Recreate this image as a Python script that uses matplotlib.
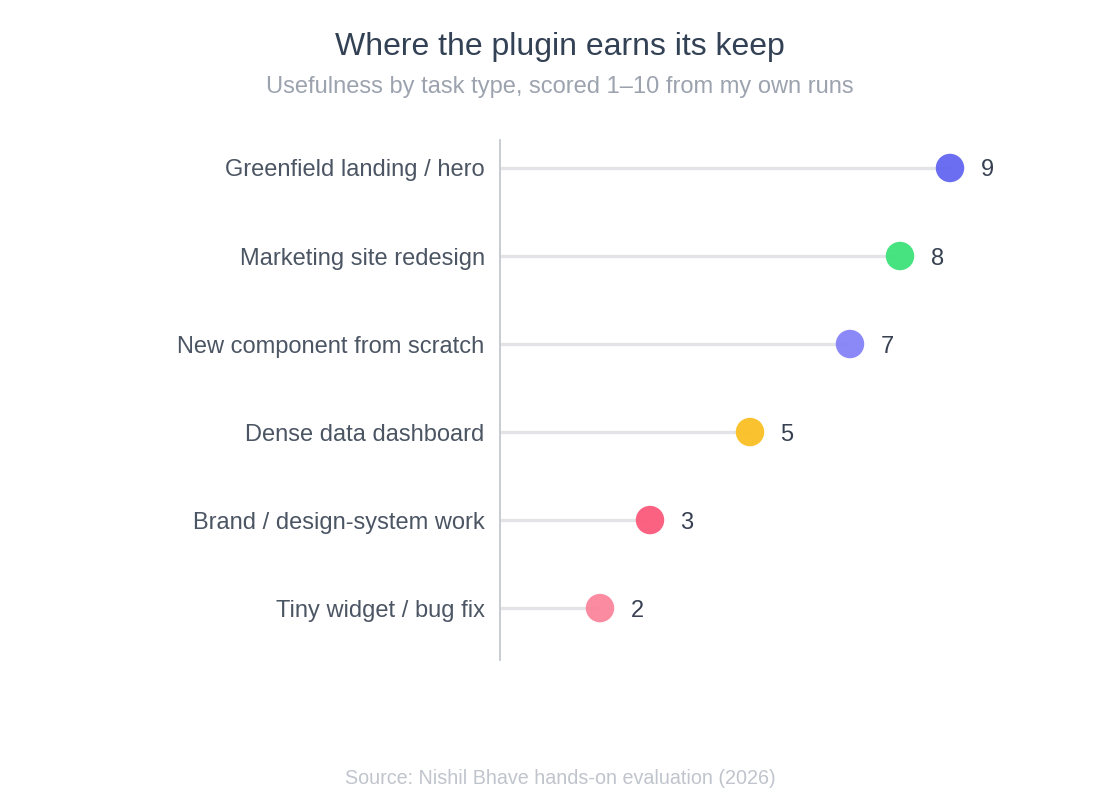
import matplotlib.pyplot as plt

tasks = ["Greenfield landing / hero", "Marketing site redesign", "New component from scratch",
         "Dense data dashboard", "Brand / design-system work", "Tiny widget / bug fix"]
scores = [9, 8, 7, 5, 3, 2]
colors = ["#6366f1", "#3ee27a", "#7f7cf8", "#fbbf24", "#fb5a7a", "#fb7f97"]
alphas = [0.95, 0.95, 0.9, 0.95, 0.95, 0.9]

plt.rcParams['font.family'] = ['Liberation Sans', 'DejaVu Sans']

fig = plt.figure(figsize=(11.2, 8), dpi=100)
ax = fig.add_axes([500 / 1120, 1 - 660 / 800, 550 / 1120, 520 / 800])

ypos = list(range(len(tasks)))
for y, s, c, a in zip(ypos, scores, colors, alphas):
    ax.plot([0, s], [y, y], color="#e2e4e8", lw=2.4, solid_capstyle="butt", zorder=1)
    ax.scatter([s], [y], s=420, color=c, alpha=a, edgecolors="none", zorder=2)
    ax.annotate(str(s), (s, y), xytext=(22, 0), textcoords="offset points",
                va="center_baseline", ha="left", fontsize=17, color="#374151")

ax.set_xlim(0, 11)
ax.set_ylim(5.59, -0.318)
ax.set_yticks(ypos)
ax.set_yticklabels(tasks, fontsize=17, color="#4b5563")
ax.tick_params(axis="y", length=0, pad=11)
ax.set_xticks([])
for side in ["top", "right", "bottom"]:
    ax.spines[side].set_visible(False)
ax.spines["left"].set_color("#c4c8ce")
ax.spines["left"].set_linewidth(1.3)

fig.text(0.5, 1 - 43 / 800, "Where the plugin earns its keep", ha="center", va="center_baseline",
         fontsize=23, color="#334155")
fig.text(0.5, 1 - 85 / 800, "Usefulness by task type, scored 1\u201310 from my own runs",
         ha="center", va="center_baseline", fontsize=17, color="#9ca3af")
fig.text(0.5, 1 - 777 / 800, "Source: Nishil Bhave hands-on evaluation (2026)",
         ha="center", va="center_baseline", fontsize=14.2, color="#c0c4cc")

fig.savefig("out.png", dpi=100, facecolor="white")
